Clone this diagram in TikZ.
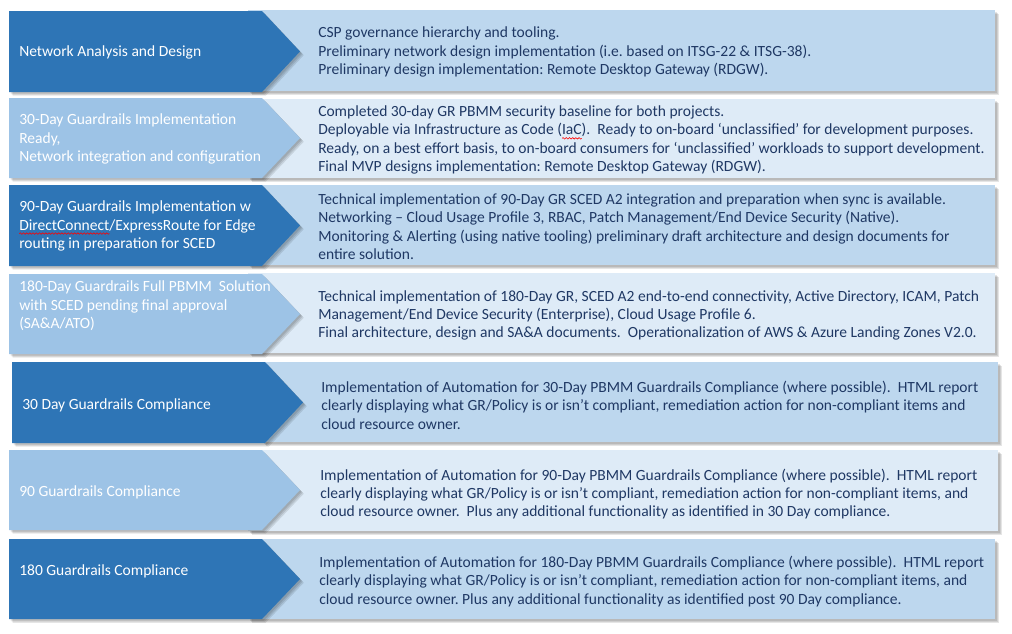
\documentclass[tikz,border=0pt]{standalone}
\usepackage{fontspec}
\setmainfont{Carlito}
\usetikzlibrary{decorations.pathmorphing}

\definecolor{stepdark}{HTML}{2E75B6}
\definecolor{steplight}{HTML}{9DC3E6}
\definecolor{panelmid}{HTML}{BDD7EE}
\definecolor{panelpale}{HTML}{DEEBF7}
\definecolor{bodytext}{HTML}{1F3864}

% red wavy underline for flagged words
\newsavebox\flagbox
\newcommand\flagword[1]{\sbox\flagbox{#1}\rlap{\tikz[baseline=0pt]{%
  \path[use as bounding box] (0pt,0pt) rectangle (0pt,0pt);
  \draw[red, line width=0.45pt, decorate,
        decoration={snake, amplitude=0.55pt, segment length=2.4pt}]
        (0pt,-2.6pt) -- (\wd\flagbox,-2.6pt);}}\usebox\flagbox}

\frenchspacing

\tikzset{
  soft/.style={
    preaction={fill=black, fill opacity=0.10, transform canvas={shift={(1.2pt,-1.2pt)}}},
    preaction={fill=black, fill opacity=0.10, transform canvas={shift={(2.0pt,-2.0pt)}}},
    preaction={fill=black, fill opacity=0.10, transform canvas={shift={(2.8pt,-2.8pt)}}}},
  darkstep/.style={fill=stepdark, draw=none, soft},
  lightstep/.style={fill=steplight, draw=none, soft},
  midpanel/.style={fill=panelmid, draw=none, soft},
  palepanel/.style={fill=panelpale, draw=none, soft},
  steptext/.style={anchor=west, inner sep=0pt, align=left, text=white,
      font=\fontsize{11.65}{13.8}\selectfont},
  bodytextnode/.style={anchor=west, inner sep=0pt, align=left, text=bodytext,
      font=\fontsize{11.65}{13.8}\selectfont},
}

% chevron: #1 style, #2 left x, #3 top, #4 bottom, #5 tip x
\newcommand\chevronpath[5]{%
  \path[#1] (#2,#3) -- (#5-38,#3) -- (#5,{(#3+#4)/2}) -- (#5-38,#4) -- (#2,#4) -- cycle;}

\begin{document}
\begin{tikzpicture}[x=0.75pt, y=-0.75pt]
\useasboundingbox (0,0) rectangle (1012,633);

% ---- row 1 ----
\path[midpanel] (248,10) rectangle (995,91);
\chevronpath{darkstep}{9}{11}{92}{300}
\node[steptext] (s1) at (19,52) {Network Analysis and Design};
\node[bodytextnode] (d1) at (318,52) {CSP governance hierarchy and tooling.\\
Preliminary network design implementation (i.e. based on ITSG-22 \& ITSG-38).\\
Preliminary design implementation: Remote Desktop Gateway (RDGW).};

% ---- row 2 ----
\path[palepanel] (248,99) rectangle (995,178);
\chevronpath{lightstep}{9}{98}{178}{300}
\node[steptext] (s2) at (19,139) {30-Day Guardrails Implementation\\Ready,\\Network integration and configuration};
\node[bodytextnode] (d2) at (318,140) {Completed 30-day GR PBMM security baseline for both projects.\\
Deployable via Infrastructure as Code (\flagword{IaC}).\ \ Ready to on-board ‘unclassified’ for development purposes.\\
Ready, on a best effort basis, to on-board consumers for ‘unclassified’ workloads to support development.\\
Final MVP designs implementation: Remote Desktop Gateway (RDGW).};

% ---- row 3 ----
\path[midpanel] (248,185) rectangle (995,265);
\chevronpath{darkstep}{9}{185}{266}{300}
\node[steptext] (s3) at (19,226) {90-Day Guardrails Implementation w\\
\flagword{DirectConnect}/ExpressRoute for Edge\\routing in preparation for SCED};
\node[bodytextnode] (d3) at (318,226.5) {Technical implementation of 90-Day GR SCED A2 integration and preparation when sync is available.\\
Networking – Cloud Usage Profile 3, RBAC, Patch Management/End Device Security (Native).\\
Monitoring \& Alerting (using native tooling) preliminary draft architecture and design documents for\\
entire solution.};

% ---- row 4 ----
\path[palepanel] (248,273) rectangle (995,353);
\chevronpath{lightstep}{9}{274}{354}{300}
\node[steptext] (s4) at (19,306) {180-Day Guardrails Full PBMM\ \ Solution\\with SCED pending final approval\\(SA\&A/ATO)};
\node[bodytextnode] (d4) at (318,315.5) {Technical implementation of 180-Day GR, SCED A2 end-to-end connectivity, Active Directory, ICAM, Patch\\
Management/End Device Security (Enterprise), Cloud Usage Profile 6.\\
Final architecture, design and SA\&A documents.\ \ Operationalization of AWS \& Azure Landing Zones V2.0.};

% ---- row 5 ----
\path[midpanel] (262,362) rectangle (998,442);
\chevronpath{darkstep}{12}{362}{443}{303}
\node[steptext] (s5) at (22,405) {30 Day Guardrails Compliance};
\node[bodytextnode] (d5) at (321,405) {Implementation of Automation for 30-Day PBMM Guardrails Compliance (where possible).\ \ HTML report\\
clearly displaying what GR/Policy is or isn’t compliant, remediation action for non-compliant items and\\
cloud resource owner.};

% ---- row 6 ----
\path[palepanel] (248,450) rectangle (998,531);
\chevronpath{lightstep}{9}{450}{530}{300}
\node[steptext] (s6) at (19,492) {90 Guardrails Compliance};
\node[bodytextnode] (d6) at (320,494) {Implementation of Automation for 90-Day PBMM Guardrails Compliance (where possible).\ \ HTML report\\
clearly displaying what GR/Policy is or isn’t compliant, remediation action for non-compliant items, and\\
cloud resource owner.\ \ Plus any additional functionality as identified in 30 Day compliance.};

% ---- row 7 ----
\path[midpanel] (248,539) rectangle (995,619);
\chevronpath{darkstep}{9}{539}{619}{300}
\node[steptext] (s7) at (19,571) {180 Guardrails Compliance};
\node[bodytextnode] (d7) at (319,581.5) {Implementation of Automation for 180-Day PBMM Guardrails Compliance (where possible).\ \ HTML report\\
clearly displaying what GR/Policy is or isn’t compliant, remediation action for non-compliant items, and\\
cloud resource owner. Plus any additional functionality as identified post 90 Day compliance.};
\end{tikzpicture}
\end{document}
